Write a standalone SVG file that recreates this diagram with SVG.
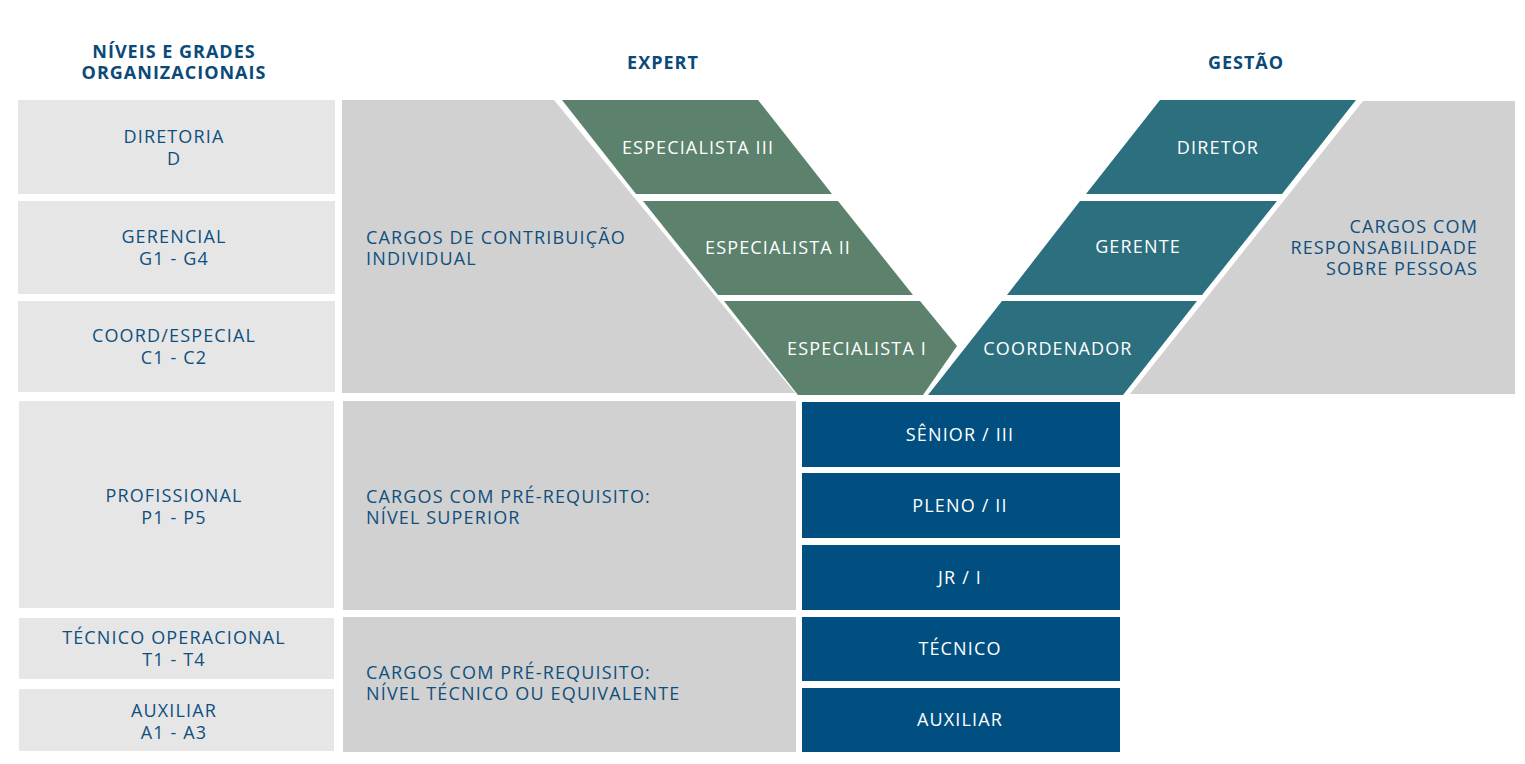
<svg xmlns="http://www.w3.org/2000/svg" width="1525" height="764" viewBox="0 0 1525 764">
<style>
.bg{fill:#ffffff}
.lvl{fill:#e6e6e6}
.grp{fill:#d1d1d1}
.exp{fill:#5c826d}
.ges{fill:#2c6f7f}
.car{fill:#004f80}
text{font-family:"Open Sans","Liberation Sans",sans-serif;font-size:18px;letter-spacing:1.15px}
.hd{fill:#0b4a78;font-weight:700;font-size:18px;letter-spacing:1px}
.dk{fill:#0f4f7e}
.wt{fill:#ffffff}
.c{text-anchor:middle}
.r{text-anchor:end}
</style>
<rect class="bg" x="0" y="0" width="1525" height="764"/>
<g id="headers">
<text class="hd c" x="174" y="58">NÍVEIS E GRADES</text>
<text class="hd c" x="174" y="79">ORGANIZACIONAIS</text>
<text class="hd c" x="663" y="69">EXPERT</text>
<text class="hd c" x="1246" y="69">GESTÃO</text>
</g>
<g id="level-diretoria"><rect class="lvl" x="18" y="100" width="317" height="94"/><text class="dk c" x="174" y="143">DIRETORIA</text><text class="dk c" x="174" y="165">D</text></g>
<g id="level-gerencial"><rect class="lvl" x="18" y="201" width="317" height="93"/><text class="dk c" x="174" y="243">GERENCIAL</text><text class="dk c" x="174" y="265">G1 - G4</text></g>
<g id="level-coord"><rect class="lvl" x="18" y="301" width="317" height="91"/><text class="dk c" x="174" y="342">COORD/ESPECIAL</text><text class="dk c" x="174" y="364">C1 - C2</text></g>
<g id="level-profissional"><rect class="lvl" x="19" y="401" width="315" height="207"/><text class="dk c" x="174" y="502">PROFISSIONAL</text><text class="dk c" x="174" y="524">P1 - P5</text></g>
<g id="level-tecnico"><rect class="lvl" x="19" y="618" width="315" height="61"/><text class="dk c" x="174" y="644">TÉCNICO OPERACIONAL</text><text class="dk c" x="174" y="666">T1 - T4</text></g>
<g id="level-auxiliar"><rect class="lvl" x="19" y="689" width="315" height="62"/><text class="dk c" x="174" y="717">AUXILIAR</text><text class="dk c" x="174" y="739">A1 - A3</text></g>
<g id="group-contribuicao"><polygon class="grp" points="342,100 554,100 795,393 342,393"/><text class="dk" x="366" y="244">CARGOS DE CONTRIBUIÇÃO</text><text class="dk" x="366" y="265">INDIVIDUAL</text></g>
<g id="group-superior"><rect class="grp" x="343" y="401" width="453" height="209"/><text class="dk" x="366" y="503">CARGOS COM PRÉ-REQUISITO:</text><text class="dk" x="366" y="524">NÍVEL SUPERIOR</text></g>
<g id="group-tecnico"><rect class="grp" x="343" y="617" width="453" height="135"/><text class="dk" x="366" y="679">CARGOS COM PRÉ-REQUISITO:</text><text class="dk" x="366" y="700">NÍVEL TÉCNICO OU EQUIVALENTE</text></g>
<g id="group-pessoas"><polygon class="grp" points="1363,101 1515,101 1515,394 1130,394"/><text class="dk r" x="1478" y="233">CARGOS COM</text><text class="dk r" x="1478" y="254">RESPONSABILIDADE</text><text class="dk r" x="1478" y="275">SOBRE PESSOAS</text></g>
<g id="especialista-3"><polygon class="exp" points="562,100 758,100 832,194 636,194"/><text class="wt c" x="698" y="154">ESPECIALISTA III</text></g>
<g id="especialista-2"><polygon class="exp" points="643,201 838,201 913,295 718,295"/><text class="wt c" x="778" y="254">ESPECIALISTA II</text></g>
<g id="especialista-1"><polygon class="exp" points="724,301 920,301 957,346 923,395 798,395"/><text class="wt c" x="857" y="355">ESPECIALISTA I</text></g>
<g id="diretor"><polygon class="ges" points="1160,100 1356,100 1282,194 1086,194"/><text class="wt c" x="1218" y="154">DIRETOR</text></g>
<g id="gerente"><polygon class="ges" points="1080,201 1277,201 1202,295 1007,295"/><text class="wt c" x="1138" y="253">GERENTE</text></g>
<g id="coordenador"><polygon class="ges" points="1002,301 1197,301 1123,395 928,395"/><text class="wt c" x="1058" y="355">COORDENADOR</text></g>
<g id="senior"><rect class="car" x="802" y="402" width="318" height="65"/><text class="wt c" x="960" y="441">SÊNIOR / III</text></g>
<g id="pleno"><rect class="car" x="802" y="473" width="318" height="65"/><text class="wt c" x="960" y="512">PLENO / II</text></g>
<g id="junior"><rect class="car" x="802" y="545" width="318" height="65"/><text class="wt c" x="960" y="584">JR / I</text></g>
<g id="tecnico"><rect class="car" x="802" y="617" width="318" height="64"/><text class="wt c" x="960" y="655">TÉCNICO</text></g>
<g id="auxiliar"><rect class="car" x="802" y="688" width="318" height="64"/><text class="wt c" x="960" y="726">AUXILIAR</text></g>
<g id="connectors"></g>
</svg>
